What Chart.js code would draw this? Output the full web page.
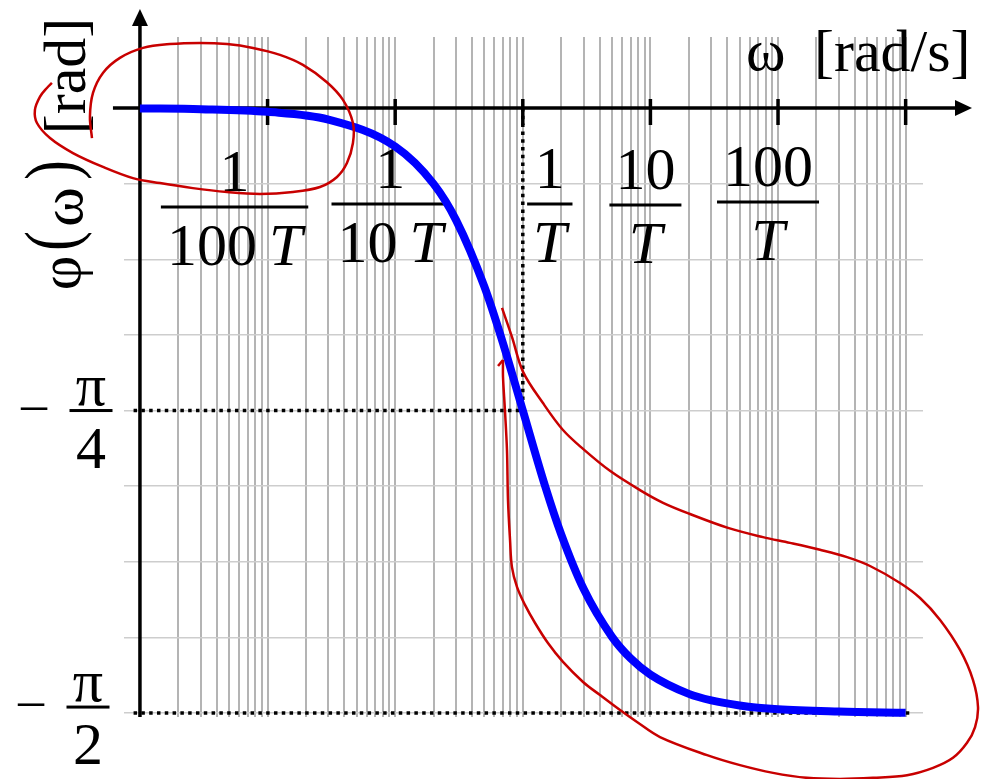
<!DOCTYPE html>
<html>
<head>
<meta charset="utf-8">
<title>Phasengang</title>
<script src="https://cdn.jsdelivr.net/npm/chart.js@4.4.1/dist/chart.umd.min.js"></script>
<style>
  html, body { margin: 0; padding: 0; background: #fff; }
  #wrap { width: 993px; height: 779px; }
</style>
</head>
<body>
<div id="wrap"><canvas id="bode" width="993" height="779"></canvas></div>
<script>
// phase of a first order lag, omega in 1/T
const omega = [0.001, 0.003, 0.01, 0.03, 0.1, 0.2, 0.3, 0.5, 0.7, 1, 1.5, 2, 3, 5, 7, 10, 20, 30, 50, 100, 300, 1000];
const phase = [-0.001, -0.003, -0.01, -0.03, -0.1, -0.197, -0.291, -0.464, -0.611, -0.785, -0.983, -1.107, -1.249, -1.373, -1.429, -1.471, -1.521, -1.538, -1.551, -1.561, -1.567, -1.570];

// decade ticks on the frequency axis, labelled as fractions
const decadeTicks = [0.01, 0.1, 1, 10, 100, 1000];
const tickNum = ["1", "1", "1", "10", "100"];
const tickDen = ["100", "10", "", "", ""];

// marked phase levels
const phaseMarks = [-Math.PI / 4, -Math.PI / 2];
const phaseMarkDen = ["4", "2"];

// hand drawn loops, given as log10(omega T) and phase [rad]
const loopA_lg = [-3.376, -3.392, -3.368, -3.290, -3.157, -2.976, -2.765, -2.530, -2.318, -2.114, -1.903, -1.723, -1.535, -1.409, -1.331, -1.331, -1.378, -1.456, -1.589, -1.801, -2.060, -2.318, -2.585, -2.843, -3.055, -3.290, -3.525, -3.705, -3.807, -3.823, -3.784, -3.729, -3.690];
const loopA_phi = [-0.078, -0.023, 0.039, 0.091, 0.130, 0.156, 0.166, 0.169, 0.166, 0.156, 0.138, 0.112, 0.067, 0.021, -0.039, -0.091, -0.143, -0.179, -0.205, -0.218, -0.223, -0.218, -0.208, -0.195, -0.182, -0.153, -0.117, -0.078, -0.039, -0.005, 0.029, 0.052, 0.065];
const loopB_lg = [-0.163, -0.085, 0.002, 0.158, 0.315, 0.472, 0.683, 0.918, 1.099, 1.310, 1.608, 1.882, 2.094, 2.329, 2.541, 2.721, 2.956, 3.113, 3.270, 3.426, 3.528, 3.567, 3.544, 3.481, 3.371, 3.215, 3.011, 2.744, 2.486, 2.227, 1.961, 1.702, 1.444, 1.075, 0.895, 0.762, 0.605, 0.472, 0.315, 0.197, 0.096, 0.017, -0.045, -0.085, -0.100, -0.116, -0.124, -0.140, -0.155, -0.155];
const loopB_phi = [-0.519, -0.594, -0.685, -0.766, -0.836, -0.885, -0.942, -0.992, -1.025, -1.054, -1.090, -1.114, -1.129, -1.147, -1.166, -1.189, -1.233, -1.272, -1.329, -1.407, -1.485, -1.555, -1.607, -1.648, -1.687, -1.713, -1.732, -1.739, -1.742, -1.739, -1.726, -1.706, -1.680, -1.633, -1.594, -1.563, -1.524, -1.490, -1.438, -1.389, -1.337, -1.290, -1.244, -1.192, -1.121, -1.018, -0.888, -0.784, -0.698, -0.654];
const hook_lg = [-0.155, -0.194];
const hook_phi = [-0.654, -0.670];

// visible window of the scales
const X_MIN = Math.pow(10, -3.125), X_MAX = Math.pow(10, 3.136);
const Y_MIN = -1.581, Y_MAX = 0.1843;

// grid: 1..9 per decade, phase every pi/16
const xGrid = [];
for (let d = -3; d < 3; d++) for (let k = 1; k < 10; k++) xGrid.push(k * Math.pow(10, d));
xGrid.push(1000);
const yGrid = [];
for (let k = 0; k <= 8; k++) yGrid.push(-k * Math.PI / 16);

const SERIF = '"Liberation Serif", "Times New Roman", serif';
const FONT = '60px ' + SERIF;
const FONT_IT = 'italic 60px ' + SERIF;

// label placement relative to the tick
const labelShift = [-33, -5, 27, -5, -10];
const labelBarY = [207, 204, 204, 205, 202];
const markBarShift = [0, -6];

const pts = (xs, ys, logX) => xs.map((v, i) => ({ x: logX ? Math.pow(10, v) : v, y: ys[i] }));

function fraction(ctx, cx, barY, num, denNum, withT) {
  ctx.font = FONT;
  ctx.textAlign = 'left';
  ctx.textBaseline = 'alphabetic';
  const numW = ctx.measureText(num).width;
  const nW = denNum ? ctx.measureText(denNum).width : 0;
  ctx.font = FONT_IT;
  const tW = withT ? ctx.measureText('T').width : 0;
  const gap = denNum && withT ? 12 : 0;
  const denW = nW + gap + tW;
  ctx.font = FONT;
  ctx.fillText(num, cx - numW / 2, barY - 16);
  const x0 = cx - denW / 2;
  if (denNum) ctx.fillText(denNum, x0, barY + 58);
  if (withT) {
    ctx.font = FONT_IT;
    ctx.fillText('T', x0 + nW + gap, barY + 58);
  }
  const bw = Math.max(numW, denW) + 12;
  ctx.fillRect(cx - bw / 2, barY - 1.5, bw, 3);
}

const overlay = {
  id: 'overlay',
  beforeDatasetsDraw(chart) {
    const { ctx, scales: { x, y } } = chart;
    const y0 = y.getPixelForValue(0);
    const xL = x.getPixelForValue(1e-3);
    ctx.save();
    ctx.strokeStyle = '#000';
    ctx.fillStyle = '#000';
    ctx.lineWidth = 3.5;
    ctx.lineCap = 'butt';

    // frequency axis with arrow
    ctx.beginPath();
    ctx.moveTo(xL - 27, y0);
    ctx.lineTo(958, y0);
    ctx.stroke();
    ctx.beginPath();
    ctx.moveTo(972, y0);
    ctx.lineTo(955, y0 - 8);
    ctx.lineTo(955, y0 + 8);
    ctx.closePath();
    ctx.fill();

    // phase axis with arrow
    ctx.beginPath();
    ctx.moveTo(xL, chart.chartArea.bottom);
    ctx.lineTo(xL, 24);
    ctx.stroke();
    ctx.beginPath();
    ctx.moveTo(xL, 9);
    ctx.lineTo(xL - 8, 26);
    ctx.lineTo(xL + 8, 26);
    ctx.closePath();
    ctx.fill();

    // decade tick marks
    decadeTicks.forEach(v => {
      const px = x.getPixelForValue(v);
      ctx.beginPath();
      ctx.moveTo(px, y0 - 9);
      ctx.lineTo(px, y0 + 17);
      ctx.stroke();
    });

    // fraction labels under the ticks
    tickNum.forEach((n, i) => {
      const cx = x.getPixelForValue(decadeTicks[i]) + labelShift[i];
      fraction(ctx, cx, labelBarY[i], n, tickDen[i], true);
    });

    // -pi/4 and -pi/2 labels
    phaseMarks.forEach((v, i) => {
      const barY = y.getPixelForValue(v) + markBarShift[i];
      ctx.font = FONT;
      ctx.textAlign = 'left';
      const piW = ctx.measureText('π').width;
      const dW = ctx.measureText(phaseMarkDen[i]).width;
      const cx = 91 - i * 3;
      ctx.fillText('π', cx - piW / 2, barY - 6);
      ctx.fillText(phaseMarkDen[i], cx - dW / 2, barY + 57);
      const bw = 43;
      ctx.fillRect(cx - bw / 2, barY - 1.5, bw, 3);
      // leading minus
      ctx.font = '52px ' + SERIF;
      ctx.textAlign = 'center';
      ctx.save();
      ctx.translate(cx - 57, barY + 15);
      ctx.scale(1.1, 1);
      ctx.fillText('\u2212', 0, 0);
      ctx.restore();
    });

    // frequency axis title
    ctx.font = FONT;
    ctx.textAlign = 'left';
    ctx.fillText('ω', 746, 70);
    ctx.fillText('[rad/s]', 814, 71);

    // phase axis title, written bottom to top; the brackets are stretched
    const yTitle = [
      { t: 'φ', c: 273, b: 80, s: 1 },
      { t: '(', c: 241, b: 76, s: 1.25 },
      { t: 'ω', c: 207, b: 82, s: 1 },
      { t: ')', c: 170, b: 76, s: 1.25 },
      { t: '[rad]', c: 76, b: 85, s: 1 }
    ];
    yTitle.forEach(p => {
      ctx.save();
      ctx.translate(p.b, p.c);
      ctx.rotate(-Math.PI / 2);
      ctx.scale(1, p.s);
      ctx.font = FONT;
      ctx.textAlign = 'center';
      ctx.fillText(p.t, 0, 0);
      ctx.restore();
    });

    ctx.restore();
  }
};

const red = '#c80000';
const redLine = {
  borderColor: red,
  borderWidth: 2.5,
  pointRadius: 0,
  tension: 0.35,
  capBezierPoints: false,
  clip: false,
  order: 0
};
const dotted = {
  borderColor: '#000',
  borderWidth: 3.5,
  borderDash: [3.5, 4.3],
  pointRadius: 0,
  clip: false,
  order: 2
};

new Chart(document.getElementById('bode'), {
  type: 'line',
  data: {
    datasets: [
      { ...redLine, data: pts(loopA_lg, loopA_phi, true) },
      { ...redLine, data: pts(loopB_lg, loopB_phi, true) },
      { ...redLine, tension: 0, data: pts(hook_lg, hook_phi, true) },
      {
        data: pts(omega, phase, false),
        borderColor: '#0000ff',
        borderWidth: 8,
        borderCapStyle: 'butt',
        pointRadius: 0,
        cubicInterpolationMode: 'monotone',
        clip: false,
        order: 1
      },
      { ...dotted, data: [{ x: Math.pow(10, -3.05), y: phaseMarks[0] }, { x: 1, y: phaseMarks[0] }] },
      { ...dotted, data: [{ x: 1, y: 0 }, { x: 1, y: phaseMarks[0] }] },
      { ...dotted, data: [{ x: Math.pow(10, -3.05), y: phaseMarks[1] }, { x: Math.pow(10, 3.04), y: phaseMarks[1] }] }
    ]
  },
  options: {
    responsive: false,
    animation: false,
    devicePixelRatio: 1,
    layout: { padding: { left: 124, top: 37, right: 70, bottom: 62 } },
    plugins: { legend: { display: false }, tooltip: { enabled: false } },
    scales: {
      x: {
        type: 'logarithmic',
        min: X_MIN,
        max: X_MAX,
        afterBuildTicks: s => { s.ticks = xGrid.map(v => ({ value: v })); },
        ticks: { display: false },
        grid: { color: '#b4b4b4', lineWidth: 2, drawTicks: false },
        border: { display: false }
      },
      y: {
        type: 'linear',
        min: Y_MIN,
        max: Y_MAX,
        afterBuildTicks: s => { s.ticks = yGrid.map(v => ({ value: v })); },
        ticks: { display: false },
        grid: { color: '#cdcdcd', lineWidth: 1.5, drawTicks: false },
        border: { display: false }
      }
    }
  },
  plugins: [overlay]
});
</script>
</body>
</html>
